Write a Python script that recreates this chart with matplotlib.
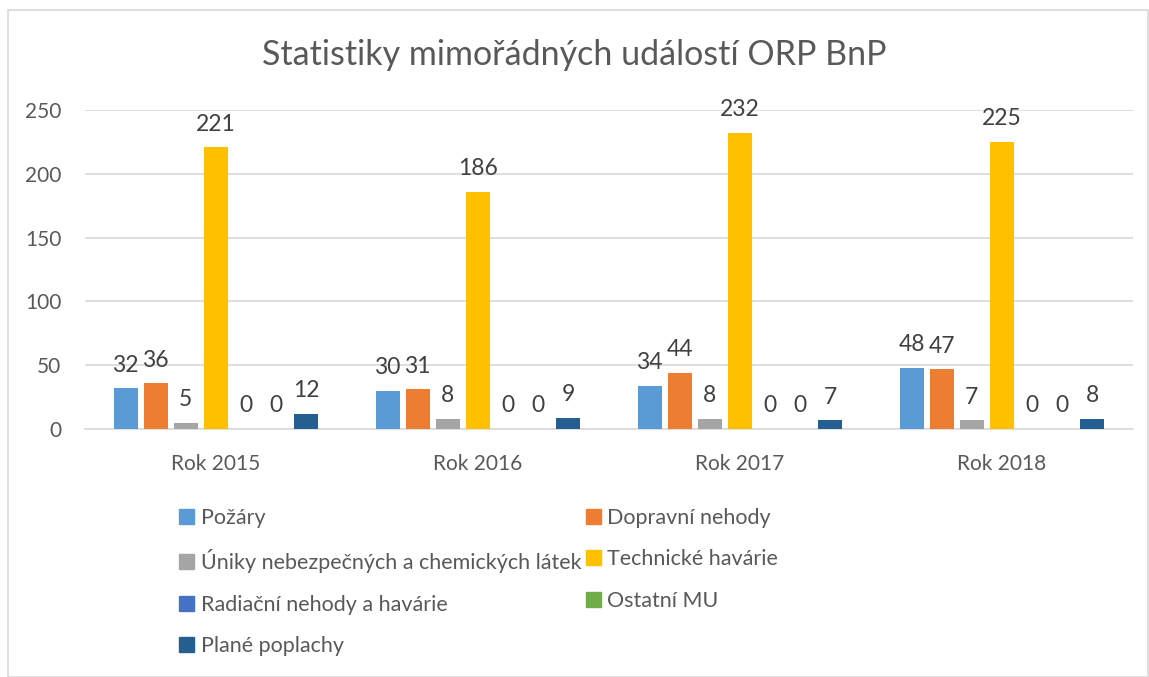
import numpy as np
import matplotlib.pyplot as plt
from matplotlib.patches import Rectangle, Patch

plt.rcParams['font.family'] = ['Lato', 'DejaVu Sans']

years = ['Rok 2015', 'Rok 2016', 'Rok 2017', 'Rok 2018']
series_names = ['Požáry', 'Dopravní nehody', 'Úniky nebezpečných a chemických látek',
                'Technické havárie', 'Radiační nehody a havárie', 'Ostatní MU', 'Plané poplachy']
pozary = [32, 30, 34, 48]
dopravni = [36, 31, 44, 47]
uniky = [5, 8, 8, 7]
technicke = [221, 186, 232, 225]
radiacni = [0, 0, 0, 0]
ostatni = [0, 0, 0, 0]
plane = [12, 9, 7, 8]
values = [pozary, dopravni, uniky, technicke, radiacni, ostatni, plane]
colors = ['#5B9BD5', '#ED7D31', '#A5A5A5', '#FFC000', '#4472C4', '#70AD47', '#255E91']

txt = '#595959'
grid = '#d9d9d9'

fig = plt.figure(figsize=(11.49, 6.77), dpi=100)
ax = fig.add_axes([85/1149, 1 - 429/677, 1048/1149, 319/677])

x = np.arange(len(years))
slot = 0.115
bw = 0.092
for i, (vals, c) in enumerate(zip(values, colors)):
    pos = x + (i - 3) * slot
    ax.bar(pos, vals, width=bw, color=c, zorder=3)
    for p, v in zip(pos, vals):
        ax.annotate(str(v), (p, v), xytext=(0, 9), textcoords='offset points',
                    ha='center', va='bottom', fontsize=16.5, color='#404040')

ax.set_xlim(-0.5, 3.5)
ax.set_ylim(0, 250)
ax.set_yticks([0, 50, 100, 150, 200, 250])
ax.set_xticks(x)
ax.set_xticklabels(years)
ax.tick_params(axis='both', length=0, labelsize=15, colors=txt)
ax.tick_params(axis='y', pad=17)
ax.tick_params(axis='x', pad=18)
ax.grid(axis='y', color=grid, linewidth=1.2, zorder=0)
for s in ['top', 'right', 'left']:
    ax.spines[s].set_visible(False)
ax.spines['bottom'].set_color(grid)
ax.spines['bottom'].set_linewidth(1.2)

fig.text(0.5, 1 - 55/677, 'Statistiky mimořádných událostí ORP BnP', ha='center', va='center',
         fontsize=24.5, color=txt)

# chart border
fig.patches.append(Rectangle((8/1149, 0), 1140/1149, 1 - 10/677, transform=fig.transFigure,
                             fill=False, edgecolor=grid, linewidth=1.2))

order = [0, 2, 4, 6, 1, 3, 5]
handles = [Patch(color=colors[i]) for i in order]
labels = [series_names[i] for i in order]
fig.legend(handles, labels, ncol=2, loc='upper left', bbox_to_anchor=(160/1149, 1 - 489/677),
           frameon=False, fontsize=15.5, labelcolor=txt, handlelength=0.7, handleheight=0.7,
           handletextpad=0.3, labelspacing=0.98, columnspacing=0.2)

fig.savefig('out.png', dpi=100)
